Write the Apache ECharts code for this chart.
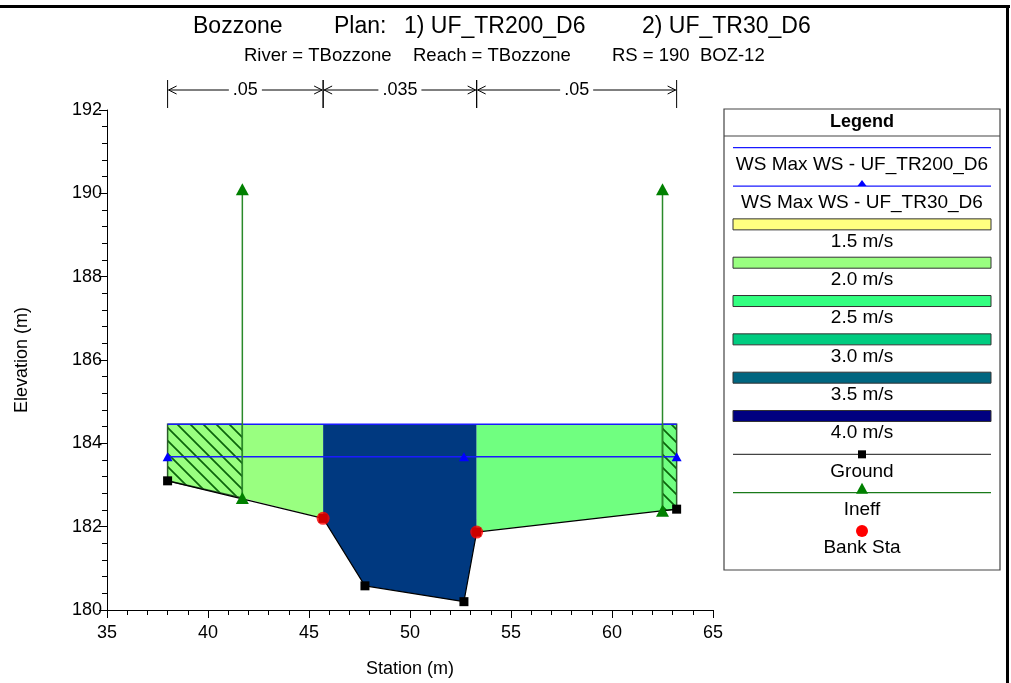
<!DOCTYPE html>
<html>
<head>
<meta charset="utf-8">
<script src="https://cdn.jsdelivr.net/npm/echarts@6/dist/echarts.min.js"></script>
<style>html,body{margin:0;padding:0;background:#fff}#chart{width:1011px;height:683px}</style>
</head>
<body>
<div id="chart"></div>
<script>
const FONT = '"Liberation Sans", Arial, Helvetica, sans-serif'

// ground points (station m, elevation m)
const groundSta = [38.0, 45.7, 47.77, 52.67, 53.3, 63.2]
const groundElev = [183.10, 182.20, 180.58, 180.20, 181.87, 182.42]

// bank stations
const bankSta = [45.7, 53.3]
const bankElev = [182.20, 181.87]

// ineffective flow limits
const ineffSta = [41.7, 62.5]
const ineffToe = [182.69, 182.38]
const ineffElev = 190.1

// water surfaces
const wsTR200 = 184.46
const wsTR30 = 183.68
const wsTR30Marks = [38.0, 52.67, 63.2]

// manning's n
const nSta = [38.0, 45.7, 53.3, 63.2]
const nValues = ['.05', '.035', '.05']

// velocity sections for TR200
const secSta = [38.0, 41.7, 45.7, 53.3, 62.5, 63.2]
const secVel = [2.0, 2.0, 3.72, 2.2, 2.2]

const velSteps = [1.5, 2.0, 2.5, 3.0, 3.5, 4.0]
const velLabels = ['1.5 m/s', '2.0 m/s', '2.5 m/s', '3.0 m/s', '3.5 m/s', '4.0 m/s']
const velColors = ['#ffff80', '#99ff80', '#33ff80', '#00cc80', '#006680', '#000080']

function hex2rgb(h) {
  return [1, 3, 5].map(i => parseInt(h.substr(i, 2), 16))
}
function velColor(v) {
  let i = 0
  while (i < velSteps.length - 2 && v > velSteps[i + 1]) i++
  let t = (v - velSteps[i]) / (velSteps[i + 1] - velSteps[i])
  t = Math.max(0, Math.min(1, t))
  const a = hex2rgb(velColors[i]), b = hex2rgb(velColors[i + 1])
  const c = a.map((x, k) => Math.round(x + (b[k] - x) * t))
  return 'rgb(' + c.join(',') + ')'
}

function makeHatch() {
  const n = 13
  const c = document.createElement('canvas')
  c.width = n; c.height = n
  const g = c.getContext('2d')
  g.strokeStyle = '#0b650b'
  g.lineWidth = 1.7
  g.beginPath()
  g.moveTo(-3, -3); g.lineTo(n + 3, n + 3)
  g.moveTo(-3, n - 3); g.lineTo(3, n + 3)
  g.moveTo(n - 3, -3); g.lineTo(n + 3, 3)
  g.stroke()
  return c
}
const hatchCanvas = makeHatch()

// ground profile incl. ineffective toes, for the fill polygons
const profile = groundSta.map((s, i) => [s, groundElev[i]])
  .concat(ineffSta.map((s, i) => [s, ineffToe[i]]))
  .sort((p, q) => p[0] - q[0])

const chart = echarts.init(document.getElementById('chart'))

// legend built as graphic (samples above labels, like the original)
const legendNames = ['WS Max WS - UF_TR200_D6', 'WS Max WS - UF_TR30_D6']
  .concat(velLabels, ['Ground', 'Ineff', 'Bank Sta'])
const LX = 724, LY = 109, LW = 276, LH = 461
const legendEls = [
  { type: 'rect', shape: { x: LX, y: LY, width: LW, height: LH }, style: { fill: '#fff', stroke: '#444', lineWidth: 1.2 } },
  { type: 'line', shape: { x1: LX, y1: LY + 27, x2: LX + LW, y2: LY + 27 }, style: { stroke: '#444', lineWidth: 1.2 } },
  { type: 'text', style: { text: 'Legend', x: LX + LW / 2, y: LY + 13, align: 'center', verticalAlign: 'middle', font: 'bold 18px ' + FONT, fill: '#000' } }
]
const sx1 = LX + 9, sx2 = LX + 267, scx = (sx1 + sx2) / 2
legendNames.forEach((name, i) => {
  const y = 147.7 + i * 38.33
  if (i < 2) {
    legendEls.push({ type: 'line', shape: { x1: sx1, y1: y, x2: sx2, y2: y }, style: { stroke: '#1a1aff', lineWidth: 1.3 } })
    if (i === 1) legendEls.push({ type: 'polygon', shape: { points: [[scx, y - 6], [scx - 4.5, y], [scx + 4.5, y]] }, style: { fill: '#0000ff' } })
  } else if (i < 2 + velLabels.length) {
    legendEls.push({ type: 'rect', shape: { x: sx1, y: y - 5.5, width: sx2 - sx1, height: 11 }, style: { fill: velColors[i - 2], stroke: '#333', lineWidth: 1 } })
  } else if (name === 'Ground') {
    legendEls.push({ type: 'line', shape: { x1: sx1, y1: y, x2: sx2, y2: y }, style: { stroke: '#444', lineWidth: 1.2 } })
    legendEls.push({ type: 'rect', shape: { x: scx - 4, y: y - 4, width: 8, height: 8 }, style: { fill: '#000' } })
  } else if (name === 'Ineff') {
    legendEls.push({ type: 'line', shape: { x1: sx1, y1: y, x2: sx2, y2: y }, style: { stroke: '#1a7a1a', lineWidth: 1.2 } })
    legendEls.push({ type: 'polygon', shape: { points: [[scx, y - 10], [scx - 6, y + 1], [scx + 6, y + 1]] }, style: { fill: '#008000' } })
  } else {
    legendEls.push({ type: 'circle', shape: { cx: scx, cy: y, r: 6 }, style: { fill: '#ff0000' } })
  }
  legendEls.push({ type: 'text', style: { text: name, x: scx, y: y + 17, align: 'center', verticalAlign: 'middle', font: '19px ' + FONT, fill: '#000' } })
})

const titleParts = [['Bozzone', 193], ['Plan:', 334], ['1) UF_TR200_D6', 404], ['2) UF_TR30_D6', 642]]
const subParts = [['River = TBozzone', 244], ['Reach = TBozzone', 413], ['RS = 190  BOZ-12', 612]]
const headEls = titleParts.map(p => ({ type: 'text', style: { text: p[0], x: p[1], y: 27, verticalAlign: 'middle', font: '23px ' + FONT, fill: '#000' } }))
  .concat(subParts.map(p => ({ type: 'text', style: { text: p[0], x: p[1], y: 56, verticalAlign: 'middle', font: '18.5px ' + FONT, fill: '#000' } })))

const frameEls = [
  { type: 'rect', shape: { x: 0, y: 5, width: 1010, height: 3 }, style: { fill: '#000' } },
  { type: 'rect', shape: { x: 1006, y: 5, width: 3, height: 678 }, style: { fill: '#000' } }
]

const axisText = { color: '#000', fontSize: 18, fontFamily: FONT }
const nameText = { color: '#000', fontSize: 18, fontFamily: FONT }

chart.setOption({
  animation: false,
  backgroundColor: '#fff',
  grid: { left: 107, right: 298, top: 110, bottom: 73 },
  xAxis: {
    type: 'value', min: 35, max: 65, interval: 5,
    axisLine: { onZero: false, lineStyle: { color: '#000', width: 1 } },
    axisTick: { length: 8, lineStyle: { color: '#000' } },
    minorTick: { show: true, splitNumber: 5, length: 5, lineStyle: { color: '#000' } },
    splitLine: { show: false },
    axisLabel: Object.assign({ margin: 14 }, axisText),
    name: 'Station (m)', nameLocation: 'middle', nameGap: 50,
    nameTextStyle: nameText
  },
  yAxis: {
    type: 'value', min: 180, max: 192, interval: 2,
    axisLine: { onZero: false, lineStyle: { color: '#000', width: 1 } },
    axisTick: { length: 8, lineStyle: { color: '#000' } },
    minorTick: { show: true, splitNumber: 5, length: 5, lineStyle: { color: '#000' } },
    splitLine: { show: false },
    axisLabel: Object.assign({ margin: 5 }, axisText),
    name: 'Elevation (m)', nameLocation: 'middle', nameGap: 76,
    nameTextStyle: nameText
  },
  graphic: frameEls.concat(headEls, legendEls),
  series: [
    {
      name: 'velocity', type: 'custom', z: 1,
      data: secVel.map((v, i) => [secSta[i], secSta[i + 1], v]),
      encode: { x: [0, 1] },
      renderItem(params, api) {
        const a = api.value(0), b = api.value(1), v = api.value(2)
        const pts = profile.filter(p => p[0] >= a - 1e-6 && p[0] <= b + 1e-6).map(p => api.coord(p))
        pts.push(api.coord([b, wsTR200]), api.coord([a, wsTR200]))
        const mid = (a + b) / 2
        const children = [{ type: 'polygon', shape: { points: pts }, style: { fill: velColor(v) } }]
        if (mid < ineffSta[0] || mid > ineffSta[1]) {
          children.push({ type: 'polygon', shape: { points: pts }, style: { fill: { image: hatchCanvas, repeat: 'repeat' }, stroke: '#2a5a2a', lineWidth: 1.5 } })
        }
        return { type: 'group', children }
      }
    },
    {
      name: 'WS Max WS - UF_TR200_D6', type: 'line', z: 3,
      data: [[groundSta[0], wsTR200], [groundSta[groundSta.length - 1], wsTR200]],
      symbol: 'none', lineStyle: { color: '#1a1aff', width: 1.5 }
    },
    {
      name: 'WS Max WS - UF_TR30_D6', type: 'line', z: 3,
      data: wsTR30Marks.map(s => [s, wsTR30]),
      symbol: 'triangle', symbolSize: [10, 9],
      itemStyle: { color: '#0000ff' }, lineStyle: { color: '#1a1aff', width: 1.5 }
    },
    {
      name: 'Ground', type: 'line', z: 4,
      data: groundSta.map((s, i) => [s, groundElev[i]]),
      symbol: 'rect', symbolSize: 9,
      itemStyle: { color: '#000' }, lineStyle: { color: '#000', width: 1.2 }
    },
    ...ineffSta.map((s, i) => ({
      name: 'Ineff', type: 'line', z: 5,
      data: [[s, ineffToe[i]], [s, ineffElev]],
      symbol: 'triangle', symbolSize: [13, 12],
      itemStyle: { color: '#008000' }, lineStyle: { color: '#2a8a2a', width: 1.5 }
    })),
    {
      name: 'Bank Sta', type: 'scatter', z: 6,
      data: bankSta.map((s, i) => [s, bankElev[i]]),
      symbol: 'circle', symbolSize: 13, itemStyle: { color: '#ff0000' }
    },
    {
      name: 'n', type: 'custom', z: 2,
      data: nValues.map((v, i) => [nSta[i], nSta[i + 1]]),
      encode: { x: [0, 1] },
      renderItem(params, api) {
        const p1 = api.coord([api.value(0), 192]), p2 = api.coord([api.value(1), 192])
        const x1 = p1[0], x2 = p2[0], top = p1[1]
        const y = top - 20
        const st = { stroke: '#000', lineWidth: 1 }
        return {
          type: 'group', children: [
            { type: 'line', shape: { x1: x1, y1: top - 30, x2: x1, y2: top - 2 }, style: st },
            { type: 'line', shape: { x1: x2, y1: top - 30, x2: x2, y2: top - 2 }, style: st },
            { type: 'line', shape: { x1: x1 + 1, y1: y, x2: x2 - 1, y2: y }, style: st },
            { type: 'polyline', shape: { points: [[x1 + 9, y - 4], [x1 + 1, y], [x1 + 9, y + 4]] }, style: { stroke: '#000', lineWidth: 1, fill: null } },
            { type: 'polyline', shape: { points: [[x2 - 9, y - 4], [x2 - 1, y], [x2 - 9, y + 4]] }, style: { stroke: '#000', lineWidth: 1, fill: null } },
            { type: 'text', style: { text: nValues[params.dataIndex], x: (x1 + x2) / 2, y: y, align: 'center', verticalAlign: 'middle', font: '18px ' + FONT, fill: '#000', backgroundColor: '#fff', padding: [0, 4] } }
          ]
        }
      }
    }
  ]
})
</script>
</body>
</html>
